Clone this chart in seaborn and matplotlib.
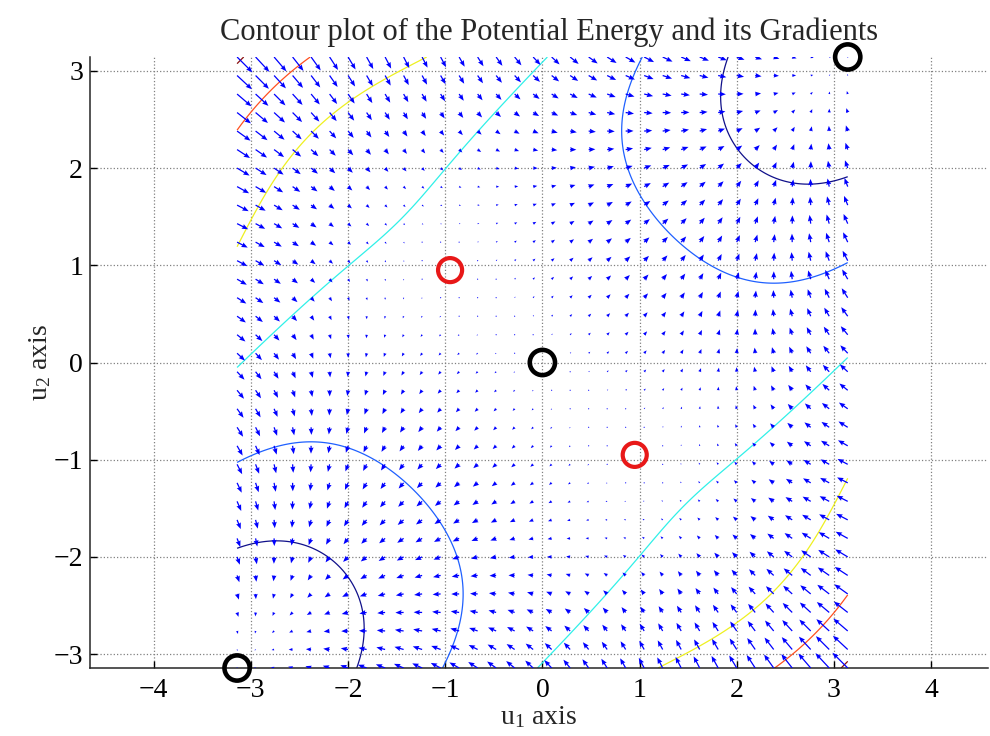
import numpy as np
import matplotlib
matplotlib.use("Agg")
import matplotlib.pyplot as plt
import seaborn as sns

# Potential V(u1, u2) = cos(u1) + cos(u2) + k * (u1 - u2)^2 on [-pi, pi]^2
coupling = 0.22
u_min, u_max = -np.pi, np.pi
n_quiver = 34
n_contour = 301

# contour levels and their colours (dark blue -> dark red)
contour_levels = [-1.0, 0.5, 2.1, 3.5, 5.0, 6.5]
contour_colors = ["#10108a", "#1f60ff", "#30f0e8", "#eef020", "#ff5020", "#8a1010"]

# equilibrium points marked on the chart
stable_u1 = [0.0, np.pi, -np.pi]
stable_u2 = [0.0, np.pi, -np.pi]
saddle_u1 = [-0.95, 0.95]
saddle_u2 = [0.95, -0.95]

x_ticks = [-4, -3, -2, -1, 0, 1, 2, 3, 4]
y_ticks = [-3, -2, -1, 0, 1, 2, 3]


def potential(u1, u2):
    return np.cos(u1) + np.cos(u2) + coupling * (u1 - u2) ** 2


def gradient(u1, u2):
    d1 = -np.sin(u1) + 2 * coupling * (u1 - u2)
    d2 = -np.sin(u2) - 2 * coupling * (u1 - u2)
    return d1, d2


sns.set_style("white")
plt.rcParams["font.family"] = ["Liberation Serif", "DejaVu Serif"]
plt.rcParams["mathtext.fontset"] = "custom"
plt.rcParams["mathtext.rm"] = "Liberation Serif"
plt.rcParams["mathtext.it"] = "Liberation Serif:italic"

fig = plt.figure(figsize=(9.9, 7.36), dpi=100)
ax = fig.add_axes([90 / 990, 68 / 736, 898 / 990, 611 / 736])

# contours on a fine grid
cu = np.linspace(u_min, u_max, n_contour)
CX, CY = np.meshgrid(cu, cu)
ax.contour(CX, CY, potential(CX, CY), levels=contour_levels,
           colors=contour_colors, linewidths=0.9, zorder=2)

# negative gradient field, autoscaled like MATLAB quiver
qu = np.linspace(u_min, u_max, n_quiver)
QX, QY = np.meshgrid(qu, qu)
g1, g2 = gradient(QX, QY)
delta = (u_max - u_min) / n_quiver
max_len = 0.85 * np.sqrt(2) * delta
scale = np.hypot(g1, g2).max() / max_len
ax.quiver(QX, QY, -g1, -g2, angles="xy", scale_units="xy", scale=scale,
          color="#0000ff", width=0.0014, headwidth=4, headlength=5,
          headaxislength=4.5, zorder=3)

# equilibria
sns.scatterplot(x=stable_u1, y=stable_u2, ax=ax, s=330, marker="o",
                facecolor="none", edgecolor="black", linewidth=3.3,
                zorder=5, clip_on=False)
sns.scatterplot(x=saddle_u1, y=saddle_u2, ax=ax, s=300, marker="o",
                facecolor="none", edgecolor="#e81818", linewidth=3.0,
                zorder=5, clip_on=False)

ax.set_xlim(-4.655, 4.585)
ax.set_ylim(u_min, u_max)
ax.set_xticks(x_ticks)
ax.set_yticks(y_ticks)
ax.grid(True, linestyle=":", color="0.5", linewidth=0.9)
ax.set_axisbelow(True)
for side in ["top", "right"]:
    ax.spines[side].set_visible(False)
for side in ["left", "bottom"]:
    ax.spines[side].set_color("0.15")
    ax.spines[side].set_linewidth(1.1)
ax.tick_params(direction="in", length=5, width=1, labelsize=20,
               left=True, bottom=True, top=False, right=False,
               colors="black", pad=5)
ax.tick_params(axis="x", pad=7)

ax.set_title("Contour plot of the Potential Energy and its Gradients",
             fontsize=22, pad=12, x=0.511)
ax.set_xlabel(r"$\mathrm{u_1}$ axis", fontsize=20, labelpad=1)
ax.set_ylabel(r"$\mathrm{u_2}$ axis", fontsize=20, labelpad=0)

fig.savefig("out.png", dpi=100)
